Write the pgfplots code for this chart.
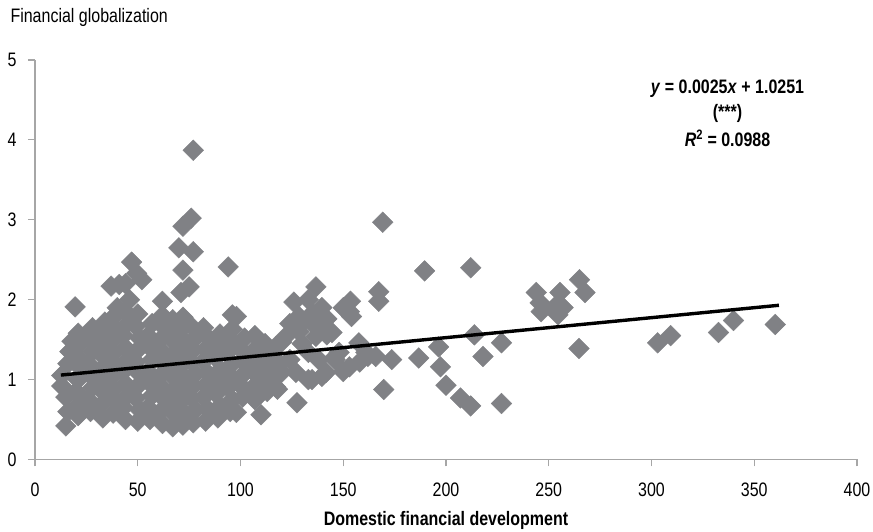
\documentclass[border=0pt]{standalone}
\usepackage{fontspec}
\setmainfont{Liberation Sans}[FakeStretch=0.82]
\usepackage{pgfplots}
\usepackage{pgfplotstable}
\pgfplotsset{compat=1.18}
\definecolor{markgray}{RGB}{128,129,133}
\definecolor{axgray}{RGB}{166,166,166}
\newcommand{\fs}{\fontsize{19.5}{23}\selectfont}

\pgfplotstableread{
x y
15 0.42
16 0.60
15 0.78
13 0.92
13 1.05
16 1.20
17 1.35
18 1.48
21 0.55
22 0.70
20 0.85
21 1.00
22 1.15
20 1.30
22 1.45
21 1.58
19.5 1.91
27 0.60
26 0.75
28 0.90
27 1.05
26 1.20
28 1.35
27 1.50
28 1.65
33 0.52
32 0.68
34 0.82
33 0.97
32 1.12
34 1.27
33 1.42
32 1.57
34 1.72
38 0.58
39 0.73
38 0.88
37 1.03
39 1.18
38 1.33
37 1.48
39 1.63
38 1.78
40 1.90
37 2.17
41 2.19
44 0.50
43 0.65
45 0.80
44 0.95
43 1.10
45 1.25
44 1.40
43 1.55
45 1.70
44 1.85
46 2.00
44 2.20
47 2.47
49.5 2.33
50 0.48
51 0.62
49 0.77
50 0.92
51 1.07
49 1.22
50 1.37
51 1.52
49 1.67
50 1.82
52 2.25
56 0.50
55 0.65
57 0.80
56 0.95
55 1.10
57 1.25
56 1.40
55 1.55
57 1.70
62 0.45
61 0.60
63 0.75
62 0.90
61 1.05
63 1.20
62 1.35
61 1.50
63 1.65
62 1.80
62 1.98
67 0.41
68 0.56
66 0.71
67 0.86
68 1.01
66 1.16
67 1.31
68 1.46
66 1.61
67 1.75
72 0.43
73 0.58
71 0.73
72 0.88
73 1.03
71 1.18
72 1.33
73 1.48
71 1.63
72 1.78
71 2.09
72 2.37
70 2.65
72 2.92
77 0.46
78 0.62
76 0.77
77 0.92
78 1.07
76 1.22
77 1.37
78 1.52
76 1.67
75 2.16
76 3.02
77 2.60
77 3.87
83 0.48
84 0.63
82 0.78
83 0.93
84 1.08
82 1.23
83 1.38
84 1.53
82 1.65
89 0.52
90 0.67
88 0.82
89 0.97
90 1.12
88 1.27
89 1.42
90 1.57
95 0.60
96 0.75
94 0.90
95 1.05
96 1.20
94 1.35
95 1.50
96 1.63
96 1.81
94 2.41
101 0.78
100 0.93
102 1.08
101 1.23
100 1.38
102 1.52
98 1.79
98 0.59
107 0.75
106 0.90
108 1.05
107 1.20
106 1.35
107 1.55
110 0.56
113 0.85
112 1.00
114 1.15
113 1.30
112 1.45
118 0.88
117 1.05
119 1.20
117 1.41
122 1.54
128.5 1.60
120 1.47
127 1.66
130 1.71
136.7 1.66
141.6 1.59
144.5 1.59
136.7 1.54
142 1.56
126 1.97
133 2.00
136.7 2.16
139.6 1.90
128.5 1.79
135 1.83
142 1.76
124 1.70
133 1.34
138 1.25
146 1.25
139.6 1.04
133 1.00
127 1.09
120 1.09
117 0.91
127.5 0.71
124 1.25
130 1.45
150 1.10
153 1.16
157.6 1.46
161 1.34
165.8 1.29
162 1.29
158 1.22
148 1.34
145.5 1.27
141.6 1.09
134.8 1.00
173.6 1.25
153.5 1.98
150 1.90
153 1.85
154 1.79
167.3 2.10
167.3 1.98
169.2 2.97
169.7 0.875
186.7 1.27
189.6 2.36
196.4 1.41
197.3 1.16
200 0.93
207 0.77
212 0.67
212 2.40
213.8 1.56
218 1.29
227 1.46
227 0.70
243.9 2.09
245.8 1.96
246.3 1.85
253 1.91
254.5 1.81
255.5 2.09
257 1.90
265 2.25
267.6 2.09
264.7 1.39
303 1.46
309.3 1.55
332.6 1.59
339.9 1.74
360.2 1.69
}\scatterdata

\pgfplotsset{common/.style={
  scale only axis, width=822pt, height=399.5pt,
  at={(0pt,0pt)}, anchor=south west,
  xmin=0, xmax=400, ymin=0, ymax=5, clip=false}}

\begin{document}
\begin{tikzpicture}
\path[use as bounding box] (-35pt,-72.5pt) rectangle (838pt,459.5pt);
\begin{axis}[
  common,
  axis lines=left,
  axis line style={-, draw=axgray, line width=1.3pt},
  x axis line style={-}, y axis line style={-},
  every outer x axis line/.append style={-},
  every outer y axis line/.append style={-},
  xtick={0,50,...,400}, ytick={0,1,...,5},
  tick align=outside, major tick length=7pt,
  tick style={draw=axgray, line width=1.1pt},
  /pgf/number format/assume math mode=true,
  ticklabel style={font=\fs, text=black},
  xticklabel style={yshift=-13pt},
  yticklabel style={xshift=-8pt},
]
\addplot[only marks, mark=square*, mark size=7.3pt, color=markgray,
  mark options={rotate=45, fill=markgray, draw=none}] table[x=x, y=y] {\scatterdata};
\node[font=\fs\bfseries] at (axis cs:337,4.64) {\textit{y} = 0.0025\textit{x} + 1.0251};
\node[font=\fs\bfseries] at (axis cs:337,4.33) {(***)};
\node[font=\fs\bfseries] at (axis cs:337,4.02) {\textit{R}\textsuperscript{2} = 0.0988};
\end{axis}
\begin{axis}[common, hide axis]
\addplot[black, line width=3.4pt] coordinates {(12.6,1.0566) (362,1.9301)};
\end{axis}
\node[anchor=base west, font=\fs] at (-28pt,436.5pt) {Financial globalization};
\node[anchor=base, font=\fs\bfseries] at (411pt,-66.5pt) {Domestic financial development};
\end{tikzpicture}
\end{document}
